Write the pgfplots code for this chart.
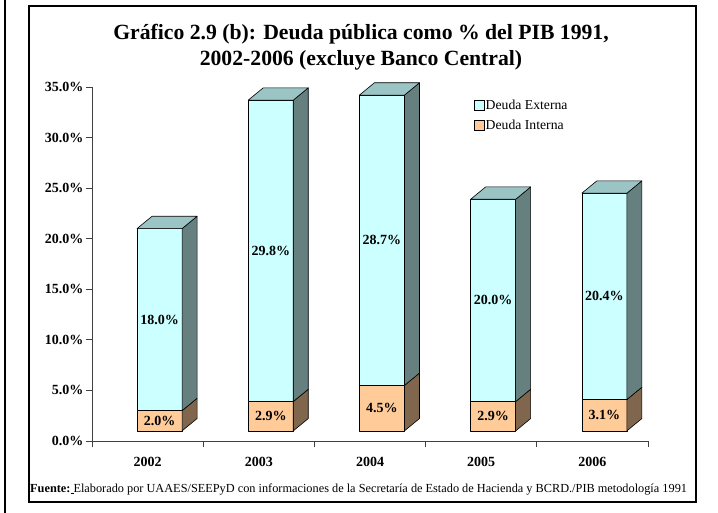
\documentclass[border=0pt]{standalone}
\usepackage{pgfplots}
\pgfplotsset{compat=1.18}
\usepackage{pgfplotstable}
\usepackage{fontspec}
\setmainfont{Liberation Serif}

\definecolor{extfront}{HTML}{CCFFFF}
\definecolor{exttop}{HTML}{9BC4C4}
\definecolor{extside}{HTML}{668080}
\definecolor{intfront}{HTML}{FFCC99}
\definecolor{intside}{HTML}{80664D}

\tikzset{
  face/.style={draw=black, line width=0.6bp, line join=round},
  vlab/.style={font=\bfseries\fontsize{14bp}{16bp}\selectfont},
}

\pgfplotstableread{
idx int ext
0 2.0 18.0
1 2.9 29.8
2 4.5 28.7
3 2.9 20.0
4 3.1 20.4
}\deuda

\def\dx{0.135}
\def\dy{1.22}

\begin{document}
\begin{tikzpicture}
\path[use as bounding box] (0bp,0bp) rectangle (718bp,513bp);
\draw[line width=2bp] (5bp,0bp) -- (5bp,513bp);
\draw[line width=1.2bp] (29bp,11bp) rectangle (696bp,507bp);

\node[font=\bfseries\fontsize{21.7bp}{26bp}\selectfont, align=center] at (361bp,465.5bp)
  {Gráfico 2.9 (b): Deuda pública como \% del PIB 1991,\\2002-2006 (excluye Banco Central)};

\node[anchor=base west, inner sep=0pt, font=\fontsize{12.3bp}{14bp}\selectfont] at (30bp,21bp)
  {\textbf{Fuente:}\underline{\hspace{3bp}}Elaborado por UAAES/SEEPyD con informaciones de la Secretaría de Estado de Hacienda y BCRD./PIB metodología 1991};

\begin{axis}[
  at={(92bp,72bp)}, anchor=south west,
  scale only axis, width=556bp, height=354bp,
  xmin=-0.5, xmax=4.5, ymin=0, ymax=35,
  clip=false,
  axis x line*=bottom, axis y line*=left,
  axis line style={black!75, line width=0.9bp, -},
  xtick={0,...,4}, xticklabels={2002,2003,2004,2005,2006},
  minor xtick={-0.5,0.5,...,4.5},
  major x tick style={draw=none},
  ytick={0,5,...,35},
  yticklabels={0.0\%,5.0\%,10.0\%,15.0\%,20.0\%,25.0\%,30.0\%,35.0\%},
  tick align=outside,
  major tick length=6bp, minor tick length=6bp,
  tick style={black!75, line width=0.9bp},
  ticklabel style={font=\bfseries\fontsize{14bp}{16bp}\selectfont},
  yticklabel style={xshift=1bp},
  xticklabel style={yshift=-7bp},
  legend style={at={(axis cs:2.93,33.9)}, anchor=north west, draw=none, fill=none,
    font=\fontsize{13.7bp}{15bp}\selectfont, row sep=6bp, inner sep=0pt,
    nodes={inner sep=1.5bp}},
  legend cell align=left,
  legend image code/.code={\draw[#1] (0bp,-5bp) rectangle (10bp,5bp);},
]
\addlegendimage{fill=extfront, draw=black, line width=0.6bp}
\addlegendentry{Deuda Externa}
\addlegendimage{fill=intfront, draw=black, line width=0.6bp}
\addlegendentry{Deuda Interna}

\pgfplotsinvokeforeach{0,...,4}{
  \pgfplotstablegetelem{#1}{int}\of\deuda \let\vi\pgfplotsretval
  \pgfplotstablegetelem{#1}{ext}\of\deuda \let\ve\pgfplotsretval
  \pgfmathsetmacro\xl{#1-0.095}
  \pgfmathsetmacro\xr{#1+0.310}
  \pgfmathsetmacro\xc{#1+0.1075}
  \pgfmathsetmacro\xbl{\xl+\dx}
  \pgfmathsetmacro\xbr{\xr+\dx}
  \pgfmathsetmacro\yi{1+\vi}
  \pgfmathsetmacro\yt{1+\vi+\ve}
  \pgfmathsetmacro\ybd{1+\dy}
  \pgfmathsetmacro\yid{\yi+\dy}
  \pgfmathsetmacro\ytd{\yt+\dy}
  \pgfmathsetmacro\ymi{(1+\yi)/2}
  \pgfmathsetmacro\yme{(\yi+\yt)/2}
  \edef\temp{%
    \noexpand\addplot[forget plot, face, fill=intfront] coordinates {(\xl,1) (\xr,1) (\xr,\yi) (\xl,\yi)} -- cycle;
    \noexpand\addplot[forget plot, face, fill=intside] coordinates {(\xr,1) (\xbr,\ybd) (\xbr,\yid) (\xr,\yi)} -- cycle;
    \noexpand\addplot[forget plot, face, fill=extfront] coordinates {(\xl,\yi) (\xr,\yi) (\xr,\yt) (\xl,\yt)} -- cycle;
    \noexpand\addplot[forget plot, face, fill=extside] coordinates {(\xr,\yi) (\xbr,\yid) (\xbr,\ytd) (\xr,\yt)} -- cycle;
    \noexpand\addplot[forget plot, face, fill=exttop] coordinates {(\xl,\yt) (\xr,\yt) (\xbr,\ytd) (\xbl,\ytd)} -- cycle;
    \noexpand\node[vlab] at (axis cs:\xc,\ymi) {\vi\noexpand\%};
    \noexpand\node[vlab] at (axis cs:\xc,\yme) {\ve\noexpand\%};
  }\temp
}
\end{axis}
\end{tikzpicture}
\end{document}
